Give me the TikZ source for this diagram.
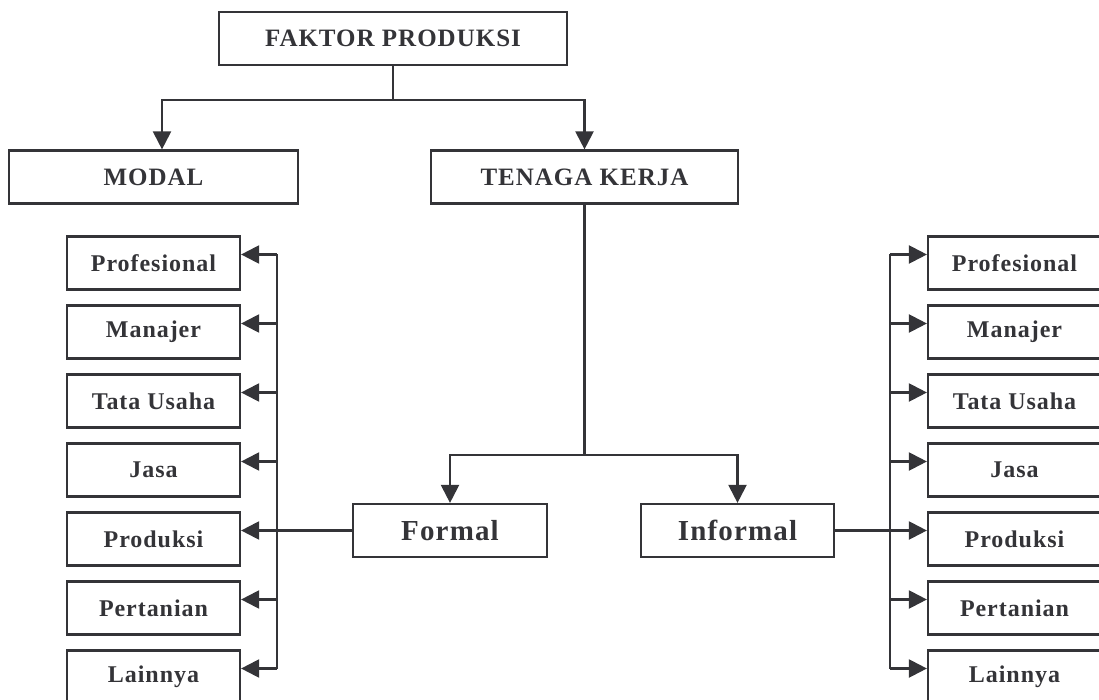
\documentclass[tikz,border=0pt]{standalone}
\usepackage{fontspec}
\setmainfont{Liberation Serif}[LetterSpace=4]
\usetikzlibrary{arrows.meta}
\definecolor{ink}{RGB}{52,52,56}

\begin{document}
\begin{tikzpicture}[x=1pt,y=-1pt]
        \tikzstyle{every node}=[font=\bfseries\fontsize{24}{28}\selectfont, text=ink]
        \tikzstyle{headbox}=[draw=ink, line width=2.2pt, minimum height=53pt, inner sep=0pt, font=\bfseries\fontsize{25}{30}\selectfont]
        \tikzstyle{jobbox}=[draw=ink, line width=2.2pt, minimum width=173pt, minimum height=53pt, inner sep=0pt]
        \tikzstyle{wire}=[draw=ink, line width=2.2pt]
        \tikzstyle{arr}=[wire, -{Triangle[length=18pt,width=18pt]}]

        \useasboundingbox (0,0) rectangle (1099,700);

        \node[headbox, minimum width=348pt] (faktor) at (393,38.5) {FAKTOR PRODUKSI};
        \node[headbox, minimum width=289pt] (modal) at (153.5,177) {MODAL};
        \node[headbox, minimum width=307pt] (tenaga) at (584.5,177) {TENAGA KERJA};
        \node[headbox, minimum width=194pt, font=\bfseries\fontsize{29}{34}\selectfont] (formal) at (450,530.5) {Formal};
        \node[headbox, minimum width=193pt, font=\bfseries\fontsize{29}{34}\selectfont] (informal) at (737.5,530.5) {Informal};

        \foreach \job [count=\i] in {Profesional, Manajer, Tata Usaha, Jasa, Produksi, Pertanian, Lainnya} {
            \node[jobbox] (fj\i) at (153.5,194+69*\i) {\job};
            \node[jobbox] (ij\i) at (1014.5,194+69*\i) {\job};
        }

        \coordinate (fbus) at (277,0);
        \coordinate (ibus) at (890,0);

        \draw[arr] (faktor.south) -- ++(0,34) coordinate (fk) -| ([xshift=8.5pt]modal.north);
        \draw[arr] (fk) -| (tenaga.north);
        \draw[arr] (tenaga.south) -- ++(0,250) coordinate (tk) -| (formal.north);
        \draw[arr] (tk) -| (informal.north);

        \draw[wire] (formal.west) -- (formal.west -| fbus);
        \draw[wire] (informal.east) -- (informal.east -| ibus);
        \draw[wire] ([yshift=8.5pt]fj1.east -| fbus) -- ([yshift=8.5pt]fj7.east -| fbus);
        \draw[wire] ([yshift=8.5pt]ij1.west -| ibus) -- ([yshift=8.5pt]ij7.west -| ibus);
        \foreach \i in {1,...,7} {
            \draw[arr] ([yshift=8.5pt]fj\i.east -| fbus) -- ([yshift=8.5pt]fj\i.east);
            \draw[arr] ([yshift=8.5pt]ij\i.west -| ibus) -- ([yshift=8.5pt]ij\i.west);
        }
\end{tikzpicture}
\end{document}
